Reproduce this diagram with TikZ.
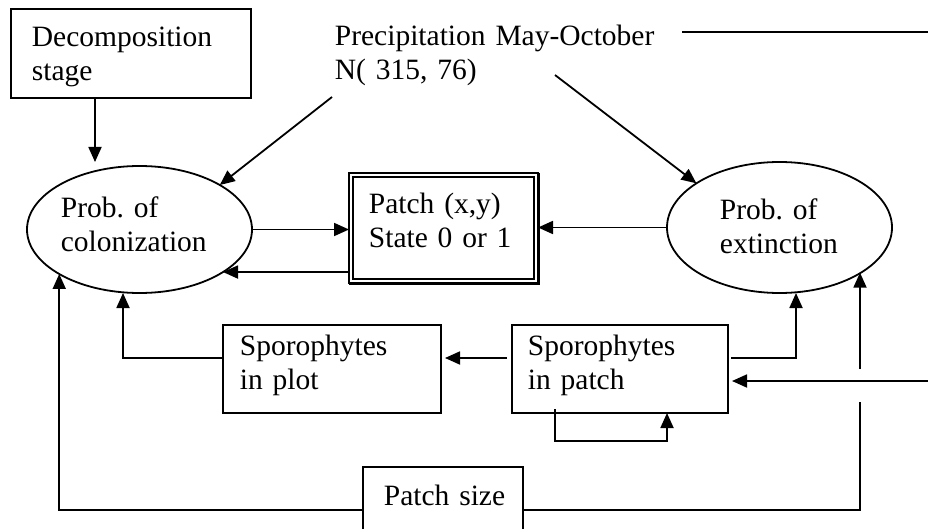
\documentclass[tikz,border=0pt]{standalone}
\usepackage{fontspec}
\setmainfont{Liberation Serif}
\usetikzlibrary{arrows.meta,shapes.geometric,calc}
\begin{document}
\frenchspacing
\begin{tikzpicture}[x=1pt,y=-1pt,
  line width=1.8pt,
  arr/.style={-{Triangle[length=15pt,width=13pt]}},
  box/.style={draw, rectangle, inner sep=0pt, outer sep=0pt, anchor=north west},
  oval/.style={draw, ellipse, inner sep=0pt, outer sep=0pt},
  txt/.style={inner sep=0pt, anchor=base west, text width=420pt, align=left, font=\fontsize{29.5}{34}\selectfont\frenchspacing}]
\useasboundingbox (0,0) rectangle (928,529);
% shapes
\node[box, minimum width=240pt, minimum height=89pt] (decomp) at (11,9) {};
\node[oval, minimum width=225pt, minimum height=127pt] (col) at (139.5,229.5) {};
\node[oval, minimum width=225pt, minimum height=131pt] (ext) at (779.5,227.5) {};
\node[box, minimum width=189pt, minimum height=110pt, line width=1.5pt] (patch) at (349,173) {};
\draw[line width=1.5pt] ($(patch.north west)+(4,4)$) rectangle ($(patch.south east)+(-4,-4)$);
\draw[line width=3pt] (patch.north east) -- (patch.south east) -- (patch.south west);
\node[box, minimum width=218pt, minimum height=88pt] (splot) at (223,325) {};
\node[box, minimum width=216pt, minimum height=88pt] (spatch) at (512,325) {};
\node[box, minimum width=160pt, minimum height=90pt] (psize) at (363,467) {};
% texts
\node[txt] (decompT) at (31,47) {Decomposition\\stage};
\node[txt] (precip) at (334,46) {Precipitation May-October\\N( 315, 76)};
\node[txt] (colT) at (60,218) {Prob. of\\colonization};
\node[txt] (extT) at (719,220) {Prob. of\\extinction};
\node[txt] (patchT) at (368,214) {Patch (x,y)\\State 0 or 1};
\node[txt] (splotT) at (239,355) {Sporophytes\\in plot};
\node[txt] (spatchT) at (527,355) {Sporophytes\\in patch};
\node[txt] (psizeT) at (383,505) {Patch size};
% coordinates
\coordinate (p1) at (332,97);
\coordinate (p2) at (555,75);
\coordinate (pl) at (682,32);
\coordinate (re) at (940,381);
\coordinate (re2) at (940,32);
\coordinate (r1) at (0,358);
\coordinate (r3) at (0,510);
\coordinate (g1) at (860,402);
\coordinate (g2) at (860,369);
% connectors
\draw[arr, shorten >=4pt] ([xshift=84pt]decomp.south west) -- ([xshift=84pt]decomp.south west |- col.north);
\draw[arr] (p1) -- (col.29);
\draw[arr] (p2) -- (ext.152);
\draw (pl) -- (re2);
\draw[arr] (col.east) -- (col.east -| patch.west);
\draw[arr] ([yshift=11pt]patch.south west) -- (col.-27);
\draw[arr] (ext.west) -- (ext.west -| patch.east);
\draw[arr, shorten <=5pt, shorten >=4pt] (spatch.west |- r1) -- (splot.east |- r1);
\draw[arr] (splot.west |- r1) -| ([xshift=-16.5pt]col.south);
\draw[arr, shorten <=3pt] (spatch.east |- r1) -| ([xshift=16.5pt]ext.south);
\draw[arr] ([shift={(43pt,4pt)}]spatch.south west) -- ++(0,32) -| ([xshift=155pt]spatch.south west);
\draw[arr, shorten >=4pt] (re) -- (re -| spatch.east);
\draw[arr] (psize.west |- r3) -| (col.-151.6);
\draw (psize.east |- r3) -| (g1);
\draw[arr] (g2) -- (g2 |- ext.-29.6);
\end{tikzpicture}
\end{document}
